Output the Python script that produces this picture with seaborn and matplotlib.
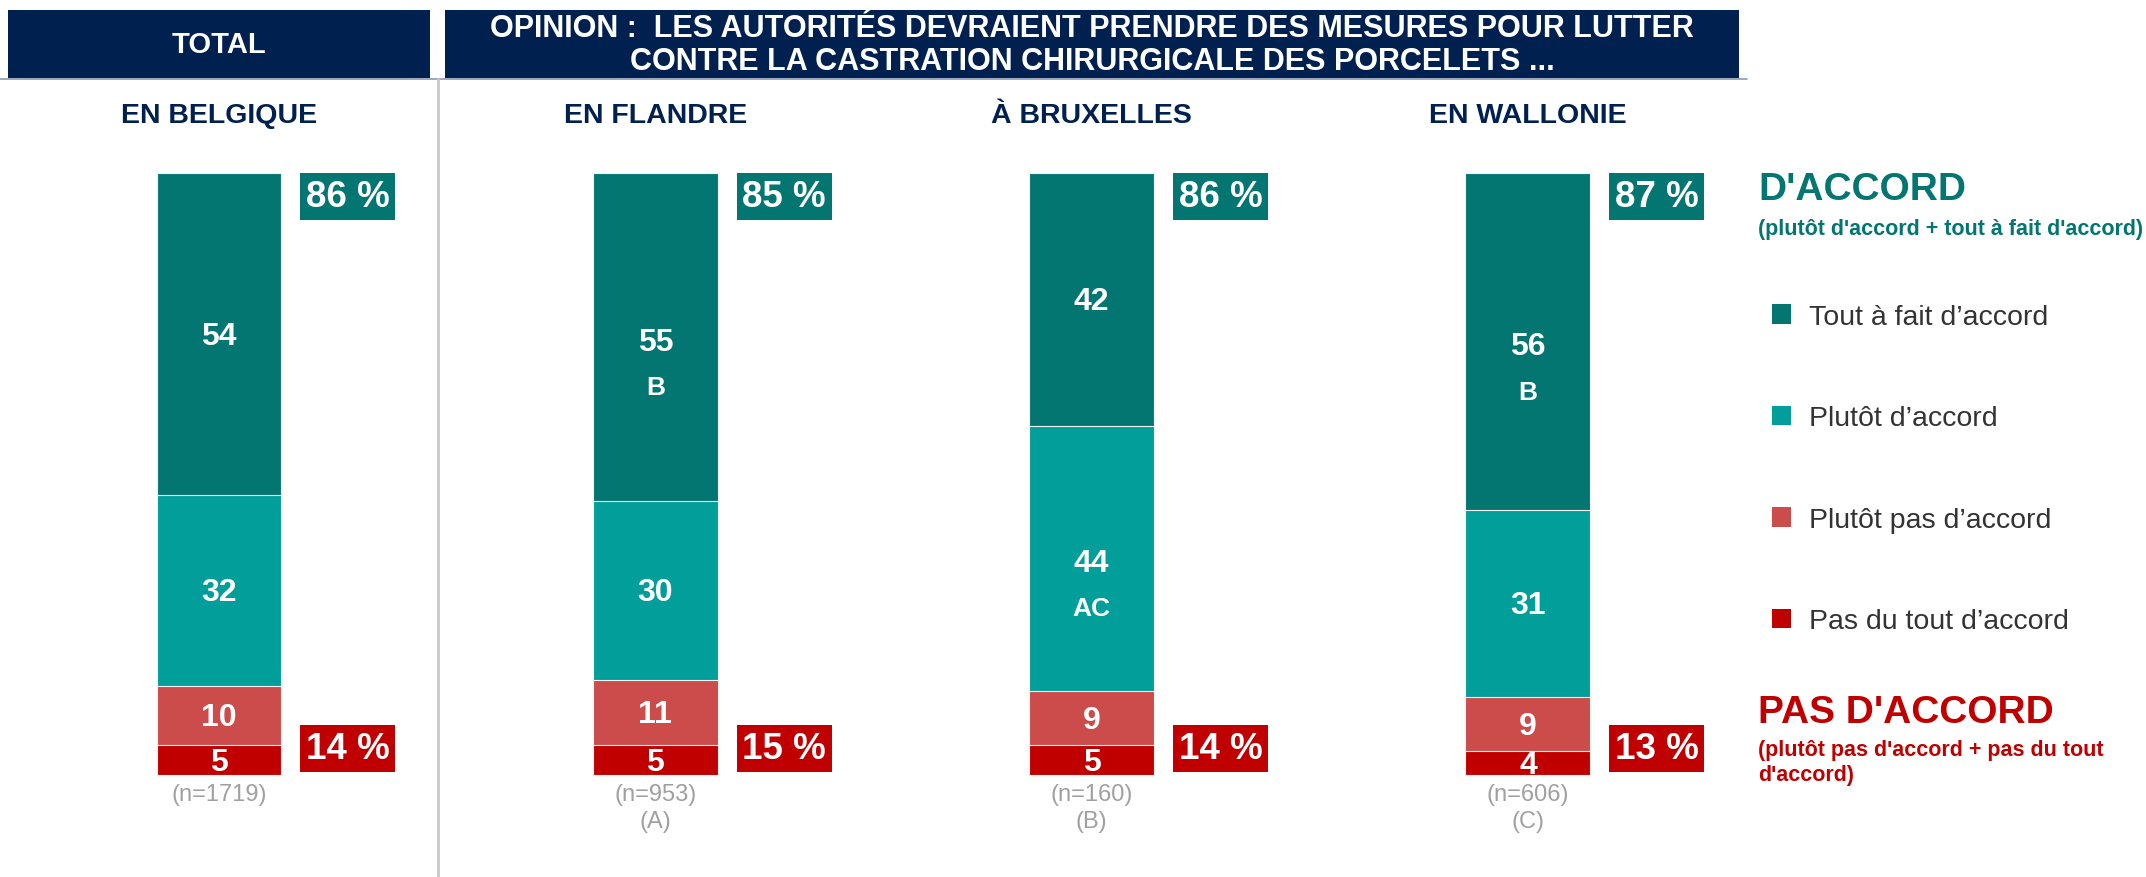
import matplotlib
matplotlib.use("Agg")
import matplotlib.pyplot as plt
from matplotlib.patches import Rectangle, Patch
from matplotlib.lines import Line2D
import numpy as np
import pandas as pd
import seaborn as sns

# data
regions = ["EN BELGIQUE", "EN FLANDRE", "À BRUXELLES", "EN WALLONIE"]
tout_a_fait = [54, 55, 42, 56]
plutot = [32, 30, 44, 31]
plutot_pas = [10, 11, 9, 9]
pas_du_tout = [5, 5, 5, 4]
sig_tout_a_fait = ["", "B", "", "B"]
sig_plutot = ["", "", "AC", ""]
total_agree = [86, 85, 86, 87]
total_disagree = [14, 15, 14, 13]
n_labels = ["(n=1719)", "(n=953)\n(A)", "(n=160)\n(B)", "(n=606)\n(C)"]

seg_names = ["Tout à fait d’accord", "Plutôt d’accord", "Plutôt pas d’accord", "Pas du tout d’accord"]
seg_colors = ["#047671", "#029E9A", "#CC4C4C", "#C00000"]
NAVY = "#00214F"

W, H = 2146, 878
sns.set_style("white")
plt.rcParams['font.family'] = ['Liberation Sans', 'DejaVu Sans']

fig = plt.figure(figsize=(W / 100, H / 100), dpi=100)
ax = fig.add_axes([0, 0, 1, 1])

# stacked shares, normalised to 100 so every bar has the same height
raw = np.array([tout_a_fait, plutot, plutot_pas, pas_du_tout], dtype=float)
shares = raw / raw.sum(axis=0) * 100
# cumulative from the bottom (pas du tout at the bottom)
bottoms = np.cumsum(shares[::-1], axis=0)[::-1] - shares
tops = bottoms + shares

rows = []
for k, name in enumerate(seg_names):
    for i, reg in enumerate(regions):
        rows.append((reg, name, tops[k, i]))
df = pd.DataFrame(rows, columns=["region", "segment", "top"])

BAR_W = 0.2865
# draw tallest first so the lower segments overlay it
for k, name in enumerate(seg_names):
    sns.barplot(data=df[df.segment == name], x="region", y="top", order=regions,
                color=seg_colors[k], width=BAR_W, errorbar=None, ax=ax,
                edgecolor="#f2f2f2", linewidth=0.8, saturation=1)

# segment labels
raw_int = [tout_a_fait, plutot, plutot_pas, pas_du_tout]
for k in range(4):
    for i in range(len(regions)):
        yc = (bottoms[k, i] + tops[k, i]) / 2
        sig = sig_tout_a_fait[i] if k == 0 else (sig_plutot[i] if k == 1 else "")
        if sig:
            ax.text(i, yc - 0.8, str(raw_int[k][i]), ha="center", va="center",
                    color="white", fontsize=23, fontweight="bold")
            ax.text(i, yc - 8.3, sig, ha="center", va="center",
                    color="white", fontsize=19, fontweight="bold")
        else:
            ax.text(i, yc - 0.3, str(raw_int[k][i]), ha="center", va="center",
                    color="white", fontsize=23, fontweight="bold")

# total boxes next to each bar
box_x0 = BAR_W / 2 + 0.0435
box_w = 0.2177
box_h = 7.8
for i in range(len(regions)):
    ax.add_patch(Rectangle((i + box_x0, 100 - box_h), box_w, box_h,
                           facecolor=seg_colors[0], edgecolor="none", zorder=3))
    ax.text(i + box_x0 + box_w / 2, 100 - box_h / 2, f"{total_agree[i]} %", ha="center",
            va="center", color="white", fontsize=26.5, fontweight="bold", zorder=4)
    ax.add_patch(Rectangle((i + box_x0, 0.55), box_w, box_h,
                           facecolor=seg_colors[3], edgecolor="none", zorder=3))
    ax.text(i + box_x0 + box_w / 2, 0.55 + box_h / 2, f"{total_disagree[i]} %", ha="center",
            va="center", color="white", fontsize=26.5, fontweight="bold", zorder=4)
    # sample sizes
    ax.text(i, -1.4, n_labels[i], ha="center", va="top", color="#A0A0A0",
            fontsize=17, linespacing=1.25)
    # region title
    ax.text(i, 109.6, regions[i], ha="center", va="center", color=NAVY,
            fontsize=20.5, fontweight="bold")

ax.set_xlim(-219 / 436.3, (W - 219) / 436.3)
ax.set_ylim(-(H - 776) / 6.02, 776 / 6.02)
ax.axis("off")


def fx(px):
    return px / W


def fy(py):
    return 1 - py / H


# header boxes
fig.patches.append(Rectangle((fx(8), fy(79)), fx(430) - fx(8), fy(11) - fy(79),
                             transform=fig.transFigure, facecolor=NAVY, edgecolor="none"))
fig.patches.append(Rectangle((fx(445), fy(79)), fx(1739) - fx(445), fy(11) - fy(79),
                             transform=fig.transFigure, facecolor=NAVY, edgecolor="none"))
fig.text(fx(219), fy(45), "TOTAL", ha="center", va="center", color="white",
         fontsize=21, fontweight="bold")
fig.text(fx(1092), fy(29), "OPINION :  LES AUTORITÉS DEVRAIENT PRENDRE DES MESURES POUR LUTTER",
         ha="center", va="center", color="white", fontsize=22, fontweight="bold")
fig.text(fx(1092), fy(62), "CONTRE LA CASTRATION CHIRURGICALE DES PORCELETS ...",
         ha="center", va="center", color="white", fontsize=22, fontweight="bold")

# separators
fig.lines.append(Line2D([fx(0), fx(1747)], [fy(80), fy(80)], transform=fig.transFigure,
                        color="#8A9AB5", linewidth=1.2))
fig.lines.append(Line2D([fx(438), fx(438)], [fy(80), fy(878)], transform=fig.transFigure,
                        color="#C8C8C8", linewidth=2))

# legend side
fig.text(fx(1758), fy(190), "D'ACCORD", ha="left", va="center", color=seg_colors[0],
         fontsize=28, fontweight="bold")
fig.text(fx(1758), fy(229), "(plutôt d'accord + tout à fait d'accord)", ha="left",
         va="center", color=seg_colors[0], fontsize=15.5, fontweight="bold")
fig.text(fx(1758), fy(713), "PAS D'ACCORD", ha="left", va="center", color=seg_colors[3],
         fontsize=28, fontweight="bold")
fig.text(fx(1758), fy(751), "(plutôt pas d'accord + pas du tout", ha="left",
         va="center", color=seg_colors[3], fontsize=15.5, fontweight="bold")
fig.text(fx(1758), fy(776), "d'accord)", ha="left",
         va="center", color=seg_colors[3], fontsize=15.5, fontweight="bold")

handles = [Patch(facecolor=c, edgecolor="none") for c in seg_colors]
leg = fig.legend(handles, seg_names, loc="upper left",
                 bbox_to_anchor=(fx(1772), fy(305)), frameon=False, fontsize=20.5,
                 handlelength=0.68, handleheight=0.68, handletextpad=0.63,
                 labelspacing=2.65, borderpad=0, borderaxespad=0)
for t in leg.get_texts():
    t.set_color("#333333")

fig.savefig("out.png", dpi=100)
